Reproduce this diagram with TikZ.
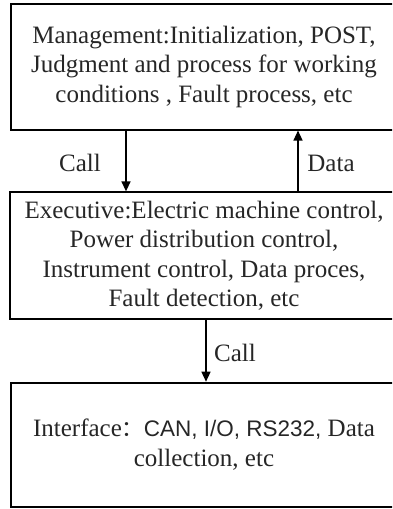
\documentclass[tikz,border=0pt]{standalone}
\usepackage{fontspec}
\setmainfont{Liberation Serif}
\newfontfamily\arialfont{Liberation Sans}
\newfontfamily\cjkfont{Noto Sans CJK SC}
\usetikzlibrary{arrows.meta}
\begin{document}
\begin{tikzpicture}[x=1pt,y=-1pt,
  box/.style={draw, line width=2pt, align=center, font=\fontsize{25}{29.5}\selectfont, text=black!85, inner sep=0pt},
  lbl/.style={font=\fontsize{25}{29.5}\selectfont, text=black!85, inner sep=0pt},
  arr/.style={line width=1.4pt, -{Triangle[width=9pt,length=10pt]}}]
\useasboundingbox (0,0) rectangle (392,509);
\clip (0,0) rectangle (392,509);
\node[box, minimum width=386pt, minimum height=125.5pt] (mgmt) at (204,66.8)
  {Management:Initialization, POST,\\Judgment and process for working\\conditions , Fault process, etc};
\node[box, minimum width=388pt, minimum height=126.5pt] (exec) at (204,255.6)
  {Executive:Electric machine control,\\Power distribution control,\\Instrument control, Data proces,\\Fault detection, etc};
\node[box, minimum width=386pt, minimum height=124pt] (intf) at (204,444.7)
  {Interface{\cjkfont\fontsize{22}{29.5}\selectfont ：}{\arialfont\fontsize{22.5}{29.5}\selectfont CAN, I/O, RS232,} Data\\collection, etc};
\coordinate (cx1) at (126,0);
\coordinate (dx1) at (298,0);
\coordinate (cx2) at (206,0);
\draw[arr] (mgmt.south -| cx1) -- (exec.north -| cx1);
\draw[arr] (exec.north -| dx1) -- (mgmt.south -| dx1);
\draw[arr] (exec.south -| cx2) -- (intf.north -| cx2);
\node[lbl] (call1) at (80,163) {Call};
\node[lbl] (data1) at (331,163) {Data};
\node[lbl] (call2) at (235,353) {Call};
\end{tikzpicture}
\end{document}
